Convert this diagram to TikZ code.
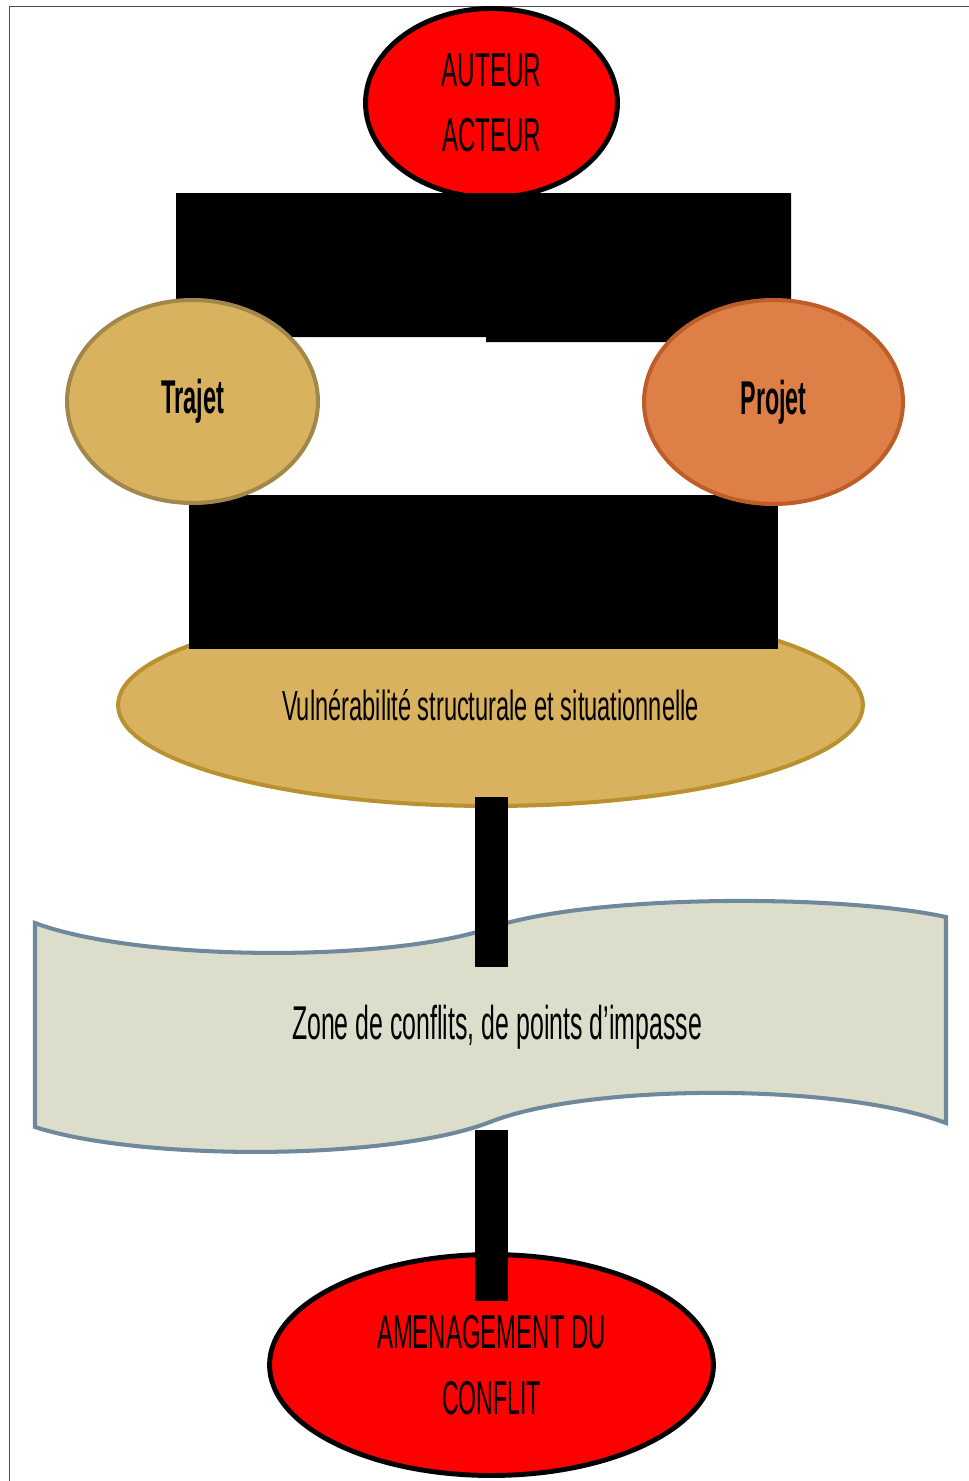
\documentclass[tikz,border=0pt]{standalone}
\usepackage{fontspec}
\setmainfont{Liberation Sans}
\usepackage{graphicx}
\usetikzlibrary{shapes.geometric}
\definecolor{sable}{HTML}{D8B25E}
\definecolor{sablefonce}{HTML}{A2874A}
\definecolor{orfonce}{HTML}{BA912F}
\definecolor{orange}{HTML}{DD7F47}
\definecolor{orangefonce}{HTML}{BE5D27}
\definecolor{bande}{HTML}{DCDECB}
\definecolor{ardoise}{HTML}{6F889C}
\newcommand{\squeeze}[2]{\resizebox{#1}{\height}{#2}}
\tikzset{
	oval/.style={ellipse, inner sep=0pt, align=center, font=\fontsize{27}{37.4}\selectfont},
	rouge/.style={oval, fill=red, draw=black, line width=2.8pt},
	ocre/.style={oval, fill=sable, draw=sablefonce, line width=2.3pt},
	brique/.style={oval, fill=orange, draw=orangefonce, line width=2.3pt}
}
\begin{document}
\begin{tikzpicture}[x=0.02cm, y=-0.02cm]
		\useasboundingbox (0,0) rectangle (969,1481);
		\draw[black!70, line width=0.5pt] (9,6) rectangle (990,1500);

		% Acteur
		\node[rouge, minimum width=5.04cm, minimum height=3.78cm] (acteur) at (491.5,103)
			{\squeeze{2cm}{AUTEUR}\\\squeeze{1.98cm}{ACTEUR}};
		\fill (176,193) -- (791,193) -- (791,342) -- (486,342) -- (486,337) -- (176,337) -- cycle;

		% Vulnerabilite
		\node[ocre, draw=orfonce, minimum width=14.9cm, minimum height=4.04cm, font=\fontsize{24}{30}\selectfont] (vuln) at (490.5,705)
			{\squeeze{8.34cm}{Vulnérabilité structurale et situationnelle}};
		\fill (189,495) rectangle (778,649);

		% Trajet et projet
		\node[ocre, minimum width=5.02cm, minimum height=4.06cm] (trajet) at (192.5,401.5)
			{\squeeze{1.26cm}{\textbf{Trajet}}};
		\node[brique, minimum width=5.18cm, minimum height=4.08cm] (projet) at (773.5,402)
			{\squeeze{1.32cm}{\textbf{Projet}}};

		% Zone de conflits
		\filldraw[fill=bande, draw=ardoise, line width=2.3pt]
			(35,923) .. controls (140,962) and (390,962) .. (490,928)
			.. controls (590,894) and (840,894) .. (946,917) -- (946,1123)
			.. controls (840,1083) and (590,1083) .. (490,1122)
			.. controls (390,1161) and (140,1161) .. (35,1127) -- cycle;
		\node[font=\fontsize{27}{32}\selectfont] (zone) at (497,1027)
			{\squeeze{8.2cm}{Zone de conflits, de points d’impasse}};
		\fill (475,797) rectangle (508,967);

		% Amenagement
		\node[rouge, minimum width=8.88cm, minimum height=4.42cm] (amenag) at (491.5,1365)
			{\squeeze{4.58cm}{AMENAGEMENT DU}\\\squeeze{1.98cm}{CONFLIT}};
		\fill (475,1130) rectangle (508,1301);
	\end{tikzpicture}
\end{document}
